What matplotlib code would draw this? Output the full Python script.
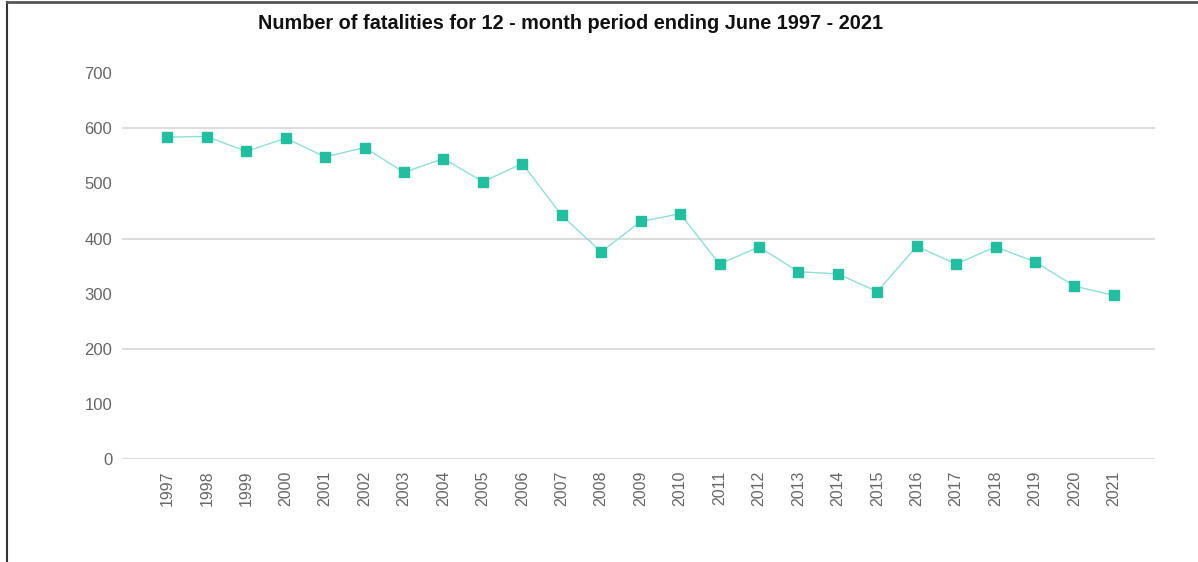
import matplotlib.pyplot as plt
from matplotlib.lines import Line2D

# Data
years = [str(y) for y in range(1997, 2022)]
fatalities = [584, 585, 558, 582, 548, 565, 520, 545, 503, 536, 442, 376, 431,
              445, 354, 385, 340, 336, 304, 386, 354, 385, 358, 314, 297]
y_ticks = [0, 100, 200, 300, 400, 500, 600, 700]
grid_values = [0, 200, 400, 600]

plt.rcParams['font.family'] = ['Liberation Sans', 'DejaVu Sans']

fig = plt.figure(figsize=(11.98, 5.62), dpi=100)
ax = fig.add_axes([0.1019, 0.1827, 0.8621, 0.6873])

x = list(range(len(years)))
ax.plot(x, fatalities, color='#8fe0d4', linewidth=1.0, zorder=3)
ax.plot(x, fatalities, linestyle='none', marker='s', markersize=6.5,
        color='#1fbf9f', zorder=4)

# gridlines only every 200
for g in grid_values:
    ax.axhline(g, color='#dcdcdc', linewidth=1.5, zorder=1)

ax.set_xlim(-1.15, 25.04)
ax.set_ylim(0, 700)
ax.set_yticks(y_ticks)
ax.set_yticklabels([str(v) for v in y_ticks], fontsize=12, color='#666666')
ax.set_xticks(x)
ax.set_xticklabels(years, rotation=90, fontsize=11.5, color='#666666')
ax.tick_params(axis='both', length=0)
ax.tick_params(axis='y', pad=7)
ax.tick_params(axis='x', pad=8)
for s in ax.spines.values():
    s.set_visible(False)

fig.text(0.476, 0.958, 'Number of fatalities for 12 - month period ending June 1997 - 2021',
         ha='center', va='center', fontsize=14.3, fontweight='bold', color='#111111')

# page frame lines (left and top)
fig.add_artist(Line2D([0.006, 0.006], [0, 0.996], transform=fig.transFigure,
                      color='#333333', linewidth=1.5))
fig.add_artist(Line2D([0.006, 1.0], [0.996, 0.996], transform=fig.transFigure,
                      color='#555555', linewidth=2))

fig.savefig('out.png', dpi=100)
